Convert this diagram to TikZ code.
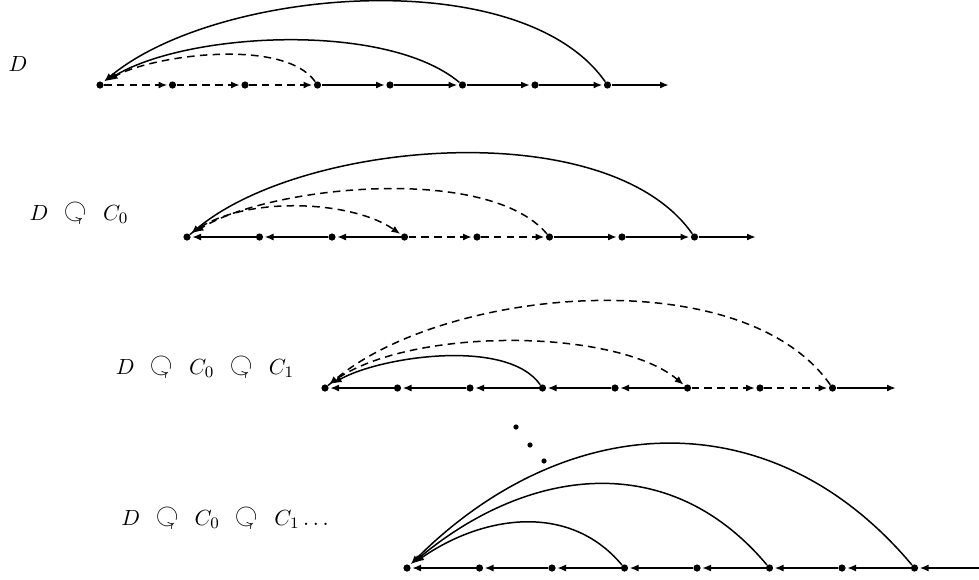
\documentclass[tikz,border=0pt]{standalone}
\usepackage{amssymb}
\usepackage{graphicx}
\usetikzlibrary{arrows.meta}
\newcommand{\crot}{\mathrel{\raisebox{0.1ex}{\scalebox{1.35}{\rotatebox[origin=c]{-135}{$\circlearrowleft$}}}}}
\begin{document}
\begin{tikzpicture}[x=0.5pt,y=-0.5pt,
  pt/.style={circle,fill,inner sep=0pt,minimum size=3.6pt},
  ar/.style={-{Latex[length=4.4pt,width=3.5pt]},line width=0.75pt,shorten >=0.6pt},
  dsh/.style={dash pattern=on 3.8pt off 2.6pt},
  lbl/.style={font=\fontsize{11}{13}\selectfont,inner sep=0pt}]
\useasboundingbox (0,0) rectangle (979,579);
% nodes
\foreach \i in {1,...,8}{
  \node[pt] (a\i) at ({100+72.5*(\i-1)},85) {};
  \node[pt] (b\i) at ({187+72.5*(\i-1)},237) {};
  \node[pt] (c\i) at ({325+72.5*(\i-1)},388) {};
  \node[pt] (d\i) at ({407+72.5*(\i-1)},568) {};
}
\coordinate (aE) at (670,85);
\coordinate (bE) at (757,237);
\coordinate (cE) at (897,388);
\coordinate (dE) at (979,568);
% labels
\node[lbl] (l1) at (18,64) {$D$};
\node[lbl] (l2) at (79,212) {$D\;\crot\;C_0$};
\node[lbl] (l3) at (205,366) {$D\;\crot\;C_0\;\crot\;C_1$};
\node[lbl] (l4) at (225,517) {$D\;\crot\;C_0\;\crot\;C_1\dots$};
% row 1
\draw[ar,dsh] (a1)--(a2);
\draw[ar,dsh] (a2)--(a3);
\draw[ar,dsh] (a3)--(a4);
\draw[ar] (a4)--(a5);
\draw[ar] (a5)--(a6);
\draw[ar] (a6)--(a7);
\draw[ar] (a7)--(a8);
\draw[ar] (a8)--(aE);
\draw[ar,dsh,shorten >=3pt] (a4) to[out=125,in=30,looseness=0.66] (a1);
\draw[ar,shorten >=2pt] (a6) to[out=140,in=32,looseness=0.69] (a1);
\draw[ar] (a8) to[out=125,in=40,looseness=0.75] (a1);
% row 2
\draw[ar] (b2)--(b1);
\draw[ar] (b3)--(b2);
\draw[ar] (b4)--(b3);
\draw[ar,dsh] (b4)--(b5);
\draw[ar,dsh] (b5)--(b6);
\draw[ar] (b6)--(b7);
\draw[ar] (b7)--(b8);
\draw[ar] (b8)--(bE);
\draw[ar,dsh] (b1) to[out=40,in=145,looseness=0.75] (b4);
\draw[ar,dsh,shorten >=2.5pt] (b6) to[out=130,in=32,looseness=0.66] (b1);
\draw[ar] (b8) to[out=125,in=40,looseness=0.75] (b1);
% row 3
\draw[ar] (c2)--(c1);
\draw[ar] (c3)--(c2);
\draw[ar] (c4)--(c3);
\draw[ar] (c5)--(c4);
\draw[ar] (c6)--(c5);
\draw[ar,dsh] (c6)--(c7);
\draw[ar,dsh] (c7)--(c8);
\draw[ar] (c8)--(cE);
\draw[ar,shorten >=2.5pt] (c4) to[out=125,in=30,looseness=0.7] (c1);
\draw[ar,dsh] (c1) to[out=40,in=140,looseness=0.66] (c6);
\draw[ar,dsh] (c8) to[out=125,in=40,looseness=0.78] (c1);
% dots
\fill (516,427) circle (1.3pt);
\fill (530,445) circle (1.3pt);
\fill (544,461) circle (1.3pt);
% row 4
\draw[ar] (d2)--(d1);
\draw[ar] (d3)--(d2);
\draw[ar] (d4)--(d3);
\draw[ar] (d5)--(d4);
\draw[ar] (d6)--(d5);
\draw[ar] (d7)--(d6);
\draw[ar] (d8)--(d7);
\draw[ar] (dE)--(d8);
\draw[ar,shorten >=3pt] (d4) to[out=130,in=35,looseness=1.02] (d1);
\draw[ar,shorten >=1.5pt] (d6) to[out=130,in=40,looseness=1.1] (d1);
\draw[ar] (d8) to[out=130,in=45,looseness=1.12] (d1);
\end{tikzpicture}
\end{document}
